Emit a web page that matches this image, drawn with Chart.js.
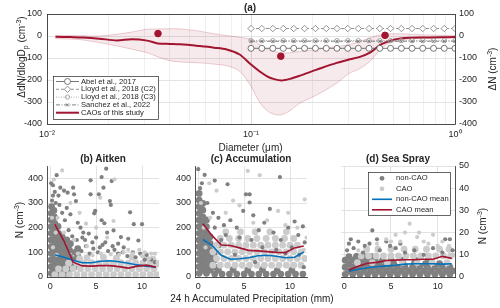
<!DOCTYPE html>
<html>
<head>
<meta charset="utf-8">
<script src="https://cdn.jsdelivr.net/npm/chart.js@4.4.1/dist/chart.umd.min.js"></script>
<style>
	body { margin: 0; background: #fff; }
	#page { position: relative; width: 500px; height: 308px; overflow: hidden; font-family: 'Liberation Sans', Arial, sans-serif; color: #262626; }
	canvas { position: absolute; }
	.t { position: absolute; white-space: nowrap; line-height: 1; transform: translate(-50%, -50%); font-size: 10px; }
	.b { font-weight: bold; }
	.r { transform: translate(-50%, -50%) rotate(-90deg); }
	sup, sub { font-size: 7px; line-height: 0; }
</style>
</head>
<body>
<div id="page">
	<canvas id="chartA" width="500" height="142" style="left:0;top:0"></canvas>
	<canvas id="chartB" width="165" height="158" style="left:0;top:150px"></canvas>
	<canvas id="chartC" width="162" height="158" style="left:150px;top:150px"></canvas>
	<canvas id="chartD" width="180" height="158" style="left:320px;top:150px"></canvas>

	<div class="t b" style="left:250px;top:7.5px">(a)</div>
	<div class="t" style="left:250.5px;top:147.5px">Diameter (μm)</div>
	<div class="t r" style="left:22px;top:57px">ΔdN/dlogD<sub>p</sub> (cm<sup>-3</sup>)</div>
	<div class="t r" style="left:493px;top:69px">ΔN (cm<sup>-3</sup>)</div>
	<div class="t b" style="left:103px;top:159px">(b) Aitken</div>
	<div class="t b" style="left:251px;top:159px">(c) Accumulation</div>
	<div class="t b" style="left:398px;top:159px">(d) Sea Spray</div>
	<div class="t r" style="left:20px;top:220px">N (cm<sup>-3</sup>)</div>
	<div class="t r" style="left:483px;top:226px">N (cm<sup>-3</sup>)</div>
	<div class="t" style="left:252px;top:299px">24 h Accumulated Precipitation (mm)</div>
</div>
<script>
// ---- (a) size distribution difference, CAO vs non-CAO ----
const diameters = [0.011,0.013,0.015,0.018,0.022,0.026,0.031,0.035,0.04,0.045,0.056,0.066,0.076,0.088,0.1,0.11,0.12,0.13,0.141,0.155,0.174,0.21,0.263,0.3,0.342,0.383,0.43,0.47,0.5,0.55,0.6,0.7,0.85,1.0];
const caoMean  = [-3,-5,-7,-12,-20,-15,-21,-34,-36,-38,-46,-53,-61,-84,-130,-160,-183,-196,-202,-195,-180,-153,-122,-108,-95,-76,-40,-25,-17,-10,-8,-7,-6,-5];
const caoUpper = [3,2,1,0,8,18,31,32,33,32,22,10,2,-6,-15,-38,-60,-70,-76,-76,-70,-61,-48,-40,-25,-8,5,9,10,10,8,5,3,2];
const caoLower = [-12,-14,-18,-30,-45,-60,-76,-95,-112,-118,-122,-128,-135,-160,-229,-300,-340,-356,-358,-340,-305,-268,-215,-172,-148,-115,-62,-35,-25,-17,-14,-10,-9,-8];

// modal dN (right axis)
const modeDiam = [0.035, 0.14, 0.454];
const modeDeltaN = [11, -92, 3];

// earlier studies
const studyDiam = [0.1,0.113,0.128,0.144,0.162,0.183,0.207,0.234,0.264,0.298,0.336,0.379,0.428,0.483,0.546,0.616,0.695,0.785,0.886,1.0];
const abel2017  = [-56,-56,-56,-56,-56,-56,-56,-56,-56,-56,-56,-56,-56,-56,-56,-56,-56,-56,-56,-56];
const lloydC2   = [34,34,34,34,34,34,34,34,34,34,34,34,34,34,34,34,34,34,34,34];
const lloydC3   = [-21,-21,-21,-21,-21,-21,-21,-21,-21,-21,-21,-21,-21,-21,-21,-21,-21,-21,-21,-21];
const sanchez2022 = [-24,-24,-24,-24,-24,-24,-24,-24,-24,-24,-24,-24,-24,-24,-24,-24,-24,-24,-24,-24];

const diamTicks = [0.01,0.02,0.03,0.04,0.05,0.06,0.07,0.08,0.09,0.1,0.2,0.3,0.4,0.5,0.6,0.7,0.8,0.9,1];
const diamMajor = [0.01, 0.1, 1];
const diamLabels = ['10⁻²', '10⁻¹', '10⁰'];

// ---- (b)-(d) number vs 24 h precipitation ----
const precipBins = [0.5,1.5,2.5,3.5,4.5,5.5,6.5,7.5,8.5,9.5,10.5,11.5];
const precipTicks = [0, 5, 10];
const countTicks = [0, 100, 200, 300, 400];
const seaTicks = [0, 10, 20, 30, 40, 50];

const aitkenCaoMean    = [213,146,60,45,44,46,46,42,36,44,48,40];
const aitkenNonCaoMean = [90,80,68,58,58,64,66,62,56,49,44,40];
const accumCaoMean     = [216,168,130,128,118,108,106,103,100,99,118,126];
const accumNonCaoMean  = [152,128,88,72,74,78,86,88,84,78,80,102];
const seaCaoMean       = [3.2,4.8,6.2,6.6,7.4,7.6,7.8,7.8,8.0,8.0,9.3,8.4];
const seaNonCaoMean    = [2.6,3.5,4.2,4.6,5.0,5.3,5.8,6.0,6.0,6.0,5.8,6.0];

// dense parts of the clouds
const aitkenNonCaoCore = [[0.1,15],[0.1,42],[0.1,69],[0.1,96],[0.1,123],[0.1,150],[0.1,177],[0.1,204],[0.1,231],[0.1,258],[0.15,285],
	[0.5,28],[0.5,55],[0.5,82],[0.5,109],[0.5,136],[0.5,163],[0.5,190],[0.5,217],[0.45,244],[0.4,270],
	[0.9,15],[0.9,42],[0.9,69],[0.9,96],[0.9,123],[0.9,150],[0.9,177],[0.85,205],
	[1.3,28],[1.3,55],[1.3,82],[1.3,109],[1.3,136],[1.3,163],
	[1.7,15],[1.7,42],[1.7,69],[1.7,96],[1.7,123],[1.8,150],
	[2.1,28],[2.1,55],[2.1,82],[2.1,109],[2.2,135],
	[2.6,40],[2.6,70],[2.7,100],[3.0,85],[3.0,115]];
const aitkenCaoCore = [[0.5,10],[1.3,10],[2.1,10],[2.9,10],[3.7,10],[4.5,10],[5.3,10],[6.1,10],[6.9,10],[7.7,10],[8.5,10],[9.3,10],[10.1,10],[10.9,10],[11.6,10],
	[0.9,33],[1.7,33],[2.5,33],[3.3,33],[4.1,33],[4.9,33],[5.7,33],[6.5,33],[7.3,33],[8.1,33],[8.9,33],[9.7,33],[10.5,33],[11.3,33],
	[2.0,56],[2.9,56],[3.7,56],[4.5,58],[5.3,56],[6.1,58],[6.9,56],[7.7,58],[8.5,56],[9.3,58],[10.1,56],[10.9,58],[11.6,52],
	[3.2,74],[4.0,78],[5.8,80],[7.2,76],[8.9,80],[10.4,78],[11.2,72]];
const accumNonCaoCore = [[0.1,15],[0.1,42],[0.1,69],[0.1,96],[0.1,123],[0.1,150],[0.1,177],[0.1,204],[0.1,231],[0.1,258],[0.1,285],[0.1,312],[0.1,339],
	[0.5,28],[0.5,55],[0.5,82],[0.5,109],[0.5,136],[0.5,163],[0.5,190],[0.5,217],[0.5,244],[0.5,271],[0.5,298],
	[0.9,15],[0.9,42],[0.9,69],[0.9,96],[0.9,123],[0.9,150],[0.9,177],[0.9,204],[0.9,231],
	[1.3,28],[1.3,55],[1.3,82],[1.3,109],[1.3,136],[1.3,163],
	[1.8,12],[2.6,12],[3.4,12],[4.2,12],[5.0,12],[5.8,12],[6.6,12],[7.4,12],[8.2,12],[9.0,12],[9.8,12],[10.6,12],[11.4,12],
	[2.2,28],[3.8,30],[5.4,28],[7.0,30],[8.6,26],[10.2,28],[1.8,40],[1.8,70],[1.8,100],[2.2,130]];
const accumCaoCore = [[1.6,48],[2.4,48],[3.2,48],[4.0,48],[4.8,48],[5.6,48],[6.4,48],[7.2,48],[8.0,48],[8.8,48],[9.6,48],[10.4,48],[11.2,48],
	[2.0,75],[2.8,75],[3.6,75],[4.4,75],[5.2,75],[6.0,75],[6.8,75],[7.6,75],[8.4,75],[9.2,75],[10.0,75],[10.8,75],[11.6,75],
	[1.6,102],[2.4,102],[3.2,102],[4.0,102],[4.8,102],[5.6,102],[6.4,102],[7.2,102],[8.0,102],[8.8,102],[9.6,102],[10.4,102],[11.2,102],
	[2.0,129],[2.8,129],[3.6,129],[4.4,129],[5.2,129],[6.0,129],[6.8,129],[7.6,129],[8.4,129],[9.2,129],[10.0,129],[10.8,129],
	[2.4,156],[3.4,156],[4.4,156],[5.4,156],[6.4,156],[7.4,156],[8.4,156],[9.4,156],[10.4,156],
	[3.0,183],[4.6,183],[6.2,183],[7.8,183],[9.6,183]];
const seaNonCaoCore = [[0.1,1.2],[0.9,1.2],[1.7,1.2],[2.5,1.2],[3.3,1.2],[4.1,1.2],[4.9,1.2],[5.7,1.2],[6.5,1.2],[7.3,1.2],[8.1,1.2],[8.9,1.2],[9.7,1.2],[10.5,1.2],[11.3,1.2],
	[0.5,2.8],[1.3,2.8],[2.1,2.8],[2.9,2.8],[3.7,2.8],[4.5,2.8],[5.3,2.8],[6.1,2.8],[6.9,2.8],[7.7,2.8],[8.5,2.8],[9.3,2.8],[10.1,2.8],[10.9,2.8],[11.6,2.8],
	[0.1,4.4],[0.9,4.4],[1.7,4.4],[2.5,4.4],[3.3,4.4],[4.1,4.4],[4.9,4.4],[5.7,4.4],[6.5,4.4],[7.3,4.4],[8.1,4.4],[8.9,4.4],[9.7,4.4],[10.5,4.4],[11.3,4.4],
	[0.5,6.0],[1.3,6.0],[2.1,6.0],[2.9,6.0],[3.7,6.0],[4.5,6.0],[5.3,6.0],[6.3,6.0],[7.5,6.0],[8.7,6.0],[10.2,6.0],
	[0.1,7.6],[0.9,7.6],[1.7,7.6],[2.5,7.6],[3.3,7.6],[4.1,7.6],[5.0,7.6],[6.2,7.6],[7.6,7.6],[9.0,7.6],
	[0.5,9.2],[1.3,9.2],[2.1,9.2],[2.9,9.2]];
const seaCaoCore = [[1.4,6.5],[3.0,6.5],[4.6,6.5],[6.2,6.5],[7.8,6.5],[9.4,6.5],[11.0,6.5],
	[1.8,9.5],[2.6,9.5],[3.4,9.5],[4.2,9.5],[5.0,9.5],[5.8,9.5],[6.6,9.5],[7.4,9.5],[8.2,9.5],[9.0,9.5],[9.8,9.5],[10.6,9.5],[11.4,9.5],
	[2.4,12.5],[3.6,12.5],[5.0,12.5],[6.4,12.5],[7.6,12.5],[8.8,12.5],[10.2,12.5],[11.2,12.5]];

// scattered points
const aitkenNonCao = [[0.1,380],[0.3,372],[0.7,413],[1.1,362],[1.5,350],[1.9,342],[2.5,362],[2.6,335],[2.8,308],[1.0,292],[2.2,254],[3.3,200],[3.6,180],[4.4,392],[4.4,335],[4.2,176],[4.9,268],[4.8,258],[5.3,335],[5.6,405],[5.8,362],[6.1,439],[6.7,389],[6.5,308],[6.6,292],[5.6,230],[5.9,218],[6.2,180],[6.9,189],[7.7,162],[7.4,135],[8.5,155],[8.7,262],[9.1,214],[10.0,214],[9.6,148],[3.0,220],[3.8,150],[4.6,140],[5.0,160],[5.4,120],[6.0,140],[7.0,110],[8.0,120],[9.0,100],[10.5,90],[11.0,70],[2.0,190],[1.6,230],[1.3,260],[0.9,330],[0.5,345],[1.8,280],
	[3.4,105],[3.9,125],[4.3,95],[4.7,115],[5.2,100],[5.7,130],[6.3,105],[6.8,125],[7.4,95],[7.9,100],[8.4,85],[9.3,80],[9.8,95],[10.3,70],[11.4,60],[2.4,165],[2.9,150],[3.5,160],[0.2,310],[0.6,300],[0.3,330]];
const aitkenCao = [[1.3,432],[0.4,395],[5.45,321],[6.9,227],[3.9,216],[7.0,396],[1.5,180],[2.6,150],[4.0,125],[8.5,110],[10.3,100],[11.4,95],[10.8,75],[9.7,110],[6.2,160],[5.0,200],[3.2,260],[2.2,300],[0.8,240],[11.7,60],[9.0,95],[7.5,90],[0.3,120],[0.6,180],[0.2,240],[0.7,90],[5.5,95],[4.6,88],[6.6,92],[8.0,100],[3.0,95],[10.0,85],[11.0,95]];
const accumNonCao = [[0.0,437],[0.7,414],[1.8,391],[3.2,376],[5.2,335],[5.6,335],[8.9,405],[4.9,268],[5.6,302],[7.8,276],[7.2,220],[10.5,225],[11.4,205],[0.4,380],[0.2,360],[1.0,300],[1.6,260],[2.2,240],[2.8,210],[3.5,230],[4.2,200],[6.0,250],[6.6,190],[8.2,180],[9.0,150],[9.8,200],[10.9,170],[11.6,140],[3.0,170],[4.5,160],[5.8,150],[7.0,120],[8.5,110],[9.5,95],[10.2,120],[11.0,90],[2.5,150],[1.8,200],[4.0,90],[6.2,60],[11.5,40]];
const accumCao = [[5.4,430],[6.7,413],[11.6,315],[8.7,268],[9.8,260],[4.5,290],[3.8,310],[2.0,350],[1.2,380],[7.5,230],[10.8,200],[11.5,110],[0.3,300],[0.6,200],[0.8,120],[1.3,240],[6.0,220],[9.5,210],[3.0,260],[11.8,160]];
const seaNonCao = [[3.0,21],[3.5,17],[0.7,17],[1.5,16],[2.2,14],[4.5,16],[10.8,17],[11.3,17],[10.5,11],[1.0,13],[2.0,11],[0.3,12],[1.3,10],[5.5,13],[6.5,11],[7.5,12],[8.5,10],[9.5,13],[3.8,12],[4.9,14],[11.6,12],[0.5,15],[2.7,15],[6.0,15]];
const seaCao = [[7.0,24],[9.5,19],[6.5,20],[5.5,19],[7.8,18],[8.5,16],[4.5,17],[3.5,15],[10.5,16],[11.2,14],[11.8,10],[6.0,16],[9.0,15],[2.5,13],[1.5,12],[8.0,20],[10.0,14],[5.0,16]];

// ---- styling / helpers ----
const ink = '#262626';
const gridGrey = '#e3e3e3';
const nonCaoGrey = '#808080';
const caoGrey = '#cccccc';
const red = '#a2142f';
const blue = '#0072bd';
const fontFamily = "'Liberation Sans', Arial, sans-serif";

Chart.defaults.font.family = fontFamily;
Chart.defaults.color = ink;

const xy = (xs, ys) => xs.map((x, i) => ({x: x, y: ys[i]}));
const pairs = list => list.map(p => ({x: p[0], y: p[1]}));
const fixTicks = values => scale => { scale.ticks = values.map(v => ({value: v, major: diamMajor.includes(v)})); };

// full box around a plot area
const boxPlugin = {
	id: 'box',
	afterDatasetsDraw(chart) {
		const a = chart.chartArea, ctx = chart.ctx;
		ctx.save();
		ctx.strokeStyle = ink;
		ctx.lineWidth = 0.8;
		ctx.strokeRect(Math.round(a.left) + 0.5, Math.round(a.top) + 0.5, Math.round(a.right - a.left), Math.round(a.bottom - a.top));
		ctx.restore();
	}
};

// legend drawn inside the plot, matlab style
const boxLegend = {
	id: 'boxLegend',
	afterDraw(chart, args, o) {
		const ctx = chart.ctx;
		const items = chart.data.datasets.filter(d => d.legendText);
		ctx.save();
		ctx.fillStyle = '#fff';
		ctx.fillRect(o.left, o.top, o.right - o.left, o.bottom - o.top);
		ctx.strokeStyle = ink;
		ctx.lineWidth = 0.7;
		ctx.strokeRect(o.left + 0.5, o.top + 0.5, o.right - o.left, o.bottom - o.top);
		ctx.font = o.size + 'px ' + fontFamily;
		ctx.textBaseline = 'middle';
		items.forEach((d, i) => {
			const y = o.firstRow + i * o.rowGap;
			if (d.showLine) {
				ctx.strokeStyle = d.borderColor;
				ctx.lineWidth = d.borderWidth;
				ctx.setLineDash(d.borderDash || []);
				ctx.beginPath();
				ctx.moveTo(o.lineFrom, y);
				ctx.lineTo(o.lineTo, y);
				ctx.stroke();
				ctx.setLineDash([]);
			}
			if (d.pointRadius > 0) {
				ctx.fillStyle = d.pointBackgroundColor;
				ctx.strokeStyle = d.pointBorderColor;
				ctx.lineWidth = d.pointBorderWidth;
				Chart.helpers.drawPoint(ctx, {pointStyle: d.pointStyle, rotation: 0, radius: d.legendRadius || d.pointRadius, borderWidth: d.pointBorderWidth}, (o.lineFrom + o.lineTo) / 2, y);
			}
			ctx.fillStyle = ink;
			ctx.fillText(d.legendText, o.textX, y);
		});
		ctx.restore();
	}
};

const study = (label, ys, color, dash, style, radius, fill, order) => ({
	legendText: label,
	data: xy(studyDiam, ys),
	showLine: true,
	borderColor: color,
	borderWidth: 0.8,
	borderDash: dash,
	pointStyle: style,
	pointRadius: radius,
	pointBorderColor: color,
	pointBackgroundColor: fill,
	pointBorderWidth: 0.8,
	order: order
});

// ---- panel (a) ----
new Chart(document.getElementById('chartA'), {
	type: 'scatter',
	data: {
		datasets: [
			study('Abel et al., 2017', abel2017, '#555555', [], 'circle', 3, '#ffffff', 1),
			study('Lloyd et al., 2018 (C2)', lloydC2, '#777777', [3, 2], 'rectRot', 3.2, '#ffffff', 2),
			study('Lloyd et al., 2018 (C3)', lloydC3, '#999999', [1, 1.5], 'circle', 2.2, 'rgba(0,0,0,0)', 3),
			study('Sanchez et al., 2022', sanchez2022, '#666666', [4, 1.5, 1, 1.5], 'crossRot', 2.2, 'rgba(0,0,0,0)', 4),
			{
				legendText: 'CAOs of this study',
				data: xy(diameters, caoMean),
				showLine: true,
				borderColor: red,
				borderWidth: 2,
				pointRadius: 0,
				tension: 0.3,
				order: 5
			},
			{
				data: xy(modeDiam, modeDeltaN),
				yAxisID: 'y2',
				pointRadius: 3.3,
				pointBackgroundColor: red,
				pointBorderColor: red,
				order: 0
			},
			{
				data: xy(diameters, caoLower),
				showLine: true,
				borderColor: 'rgba(162,20,47,0.25)',
				borderWidth: 0.8,
				pointRadius: 0,
				tension: 0.3,
				order: 6
			},
			{
				data: xy(diameters, caoUpper),
				showLine: true,
				borderColor: 'rgba(162,20,47,0.25)',
				borderWidth: 0.8,
				pointRadius: 0,
				tension: 0.3,
				fill: {target: 6, above: 'rgba(162,20,47,0.09)', below: 'rgba(162,20,47,0.09)'},
				order: 7
			}
		]
	},
	options: {
		responsive: false,
		animation: false,
		events: [],
		layout: {padding: {top: 14, left: 0, right: 0, bottom: 0}},
		plugins: {
			legend: {display: false},
			tooltip: {enabled: false},
			boxLegend: {left: 53, top: 76, right: 158, bottom: 119, firstRow: 81.5, rowGap: 7.8, lineFrom: 56, lineTo: 79, textX: 81, size: 7.6}
		},
		scales: {
			x: {
				type: 'logarithmic',
				min: 0.01,
				max: 1,
				afterBuildTicks: fixTicks(diamTicks),
				afterFit: s => { s.height = 18; },
				grid: {drawTicks: false, color: c => (c.tick && c.tick.major) ? '#dedede' : '#efefef'},
				border: {display: false},
				ticks: {
					autoSkip: false,
					maxRotation: 0,
					padding: 5,
					font: {size: 9},
					callback: v => { const i = diamMajor.indexOf(v); return i < 0 ? '' : diamLabels[i]; }
				}
			},
			y: {
				position: 'left',
				min: -400,
				max: 100,
				afterFit: s => { s.width = 47; },
				grid: {drawTicks: false, color: gridGrey},
				border: {display: false},
				ticks: {stepSize: 100, padding: 5, font: {size: 9}}
			},
			y2: {
				position: 'right',
				min: -400,
				max: 100,
				afterFit: s => { s.width = 45; },
				grid: {display: false, drawTicks: false},
				border: {display: false},
				ticks: {stepSize: 100, padding: 4, font: {size: 9}}
			}
		}
	},
	plugins: [boxPlugin, boxLegend]
});

// ---- panels (b)-(d) ----
const dots = (list, color, radius, order, label) => ({
	legendText: label,
	data: pairs(list),
	pointRadius: radius,
	legendRadius: 2.4,
	pointBackgroundColor: color,
	pointBorderColor: color,
	pointBorderWidth: 0,
	order: order
});
const meanLine = (values, color, order, label) => ({
	legendText: label,
	data: xy(precipBins, values),
	showLine: true,
	borderColor: color,
	borderWidth: 1.6,
	pointRadius: 0,
	order: order
});

var makePanel = (id, o) => new Chart(document.getElementById(id), {
	type: 'scatter',
	data: {
		datasets: [
			dots(o.nonCore, nonCaoGrey, 3.4, 6),
			dots(o.caoCore, caoGrey, 3.4, 5),
			dots(o.nonCao, nonCaoGrey, 2.1, 4, 'non-CAO'),
			dots(o.cao, caoGrey, 2.1, 3, 'CAO'),
			meanLine(o.nonMean, blue, 2, 'non-CAO mean'),
			meanLine(o.caoMean, red, 1, 'CAO mean')
		]
	},
	options: {
		responsive: false,
		animation: false,
		events: [],
		layout: {padding: o.padding},
		plugins: {
			legend: {display: false},
			tooltip: {enabled: false},
			boxLegend: o.legend
		},
		scales: {
			x: {
				type: 'linear',
				min: -0.35,
				max: 11.85,
				afterBuildTicks: fixTicks(precipTicks),
				afterFit: s => { s.height = 31; },
				grid: {drawTicks: false, color: gridGrey},
				border: {display: true, color: ink, width: 0.8},
				ticks: {autoSkip: false, maxRotation: 0, padding: 4, font: {size: 9}}
			},
			y: {
				type: 'linear',
				position: o.side,
				min: 0,
				max: o.yMax,
				afterBuildTicks: fixTicks(o.yTicks),
				afterFit: s => { s.width = o.yWidth; },
				grid: {drawTicks: false, color: gridGrey},
				border: {display: true, color: ink, width: 0.8},
				ticks: {autoSkip: false, padding: 4, font: {size: 9}}
			}
		}
	},
	plugins: o.legend ? [boxLegend] : []
});

makePanel('chartB', {
	nonCore: aitkenNonCaoCore, caoCore: aitkenCaoCore, nonCao: aitkenNonCao, cao: aitkenCao,
	nonMean: aitkenNonCaoMean, caoMean: aitkenCaoMean,
	yMax: 450, yTicks: countTicks, side: 'left', yWidth: 47,
	padding: {top: 16, right: 6, left: 0, bottom: 0}
});
makePanel('chartC', {
	nonCore: accumNonCaoCore, caoCore: accumCaoCore, nonCao: accumNonCao, cao: accumCao,
	nonMean: accumNonCaoMean, caoMean: accumCaoMean,
	yMax: 450, yTicks: countTicks, side: 'left', yWidth: 45,
	padding: {top: 16, right: 5, left: 0, bottom: 0}
});
makePanel('chartD', {
	nonCore: seaNonCaoCore, caoCore: seaCaoCore, nonCao: seaNonCao, cao: seaCao,
	nonMean: seaNonCaoMean, caoMean: seaCaoMean,
	yMax: 50, yTicks: seaTicks, side: 'right', yWidth: 45,
	padding: {top: 16, right: 0, left: 21, bottom: 0},
	legend: {left: 48, top: 22, right: 130, bottom: 65, firstRow: 28.3, rowGap: 10.5, lineFrom: 52, lineTo: 72, textX: 76, size: 7.6}
});
</script>
</body>
</html>
